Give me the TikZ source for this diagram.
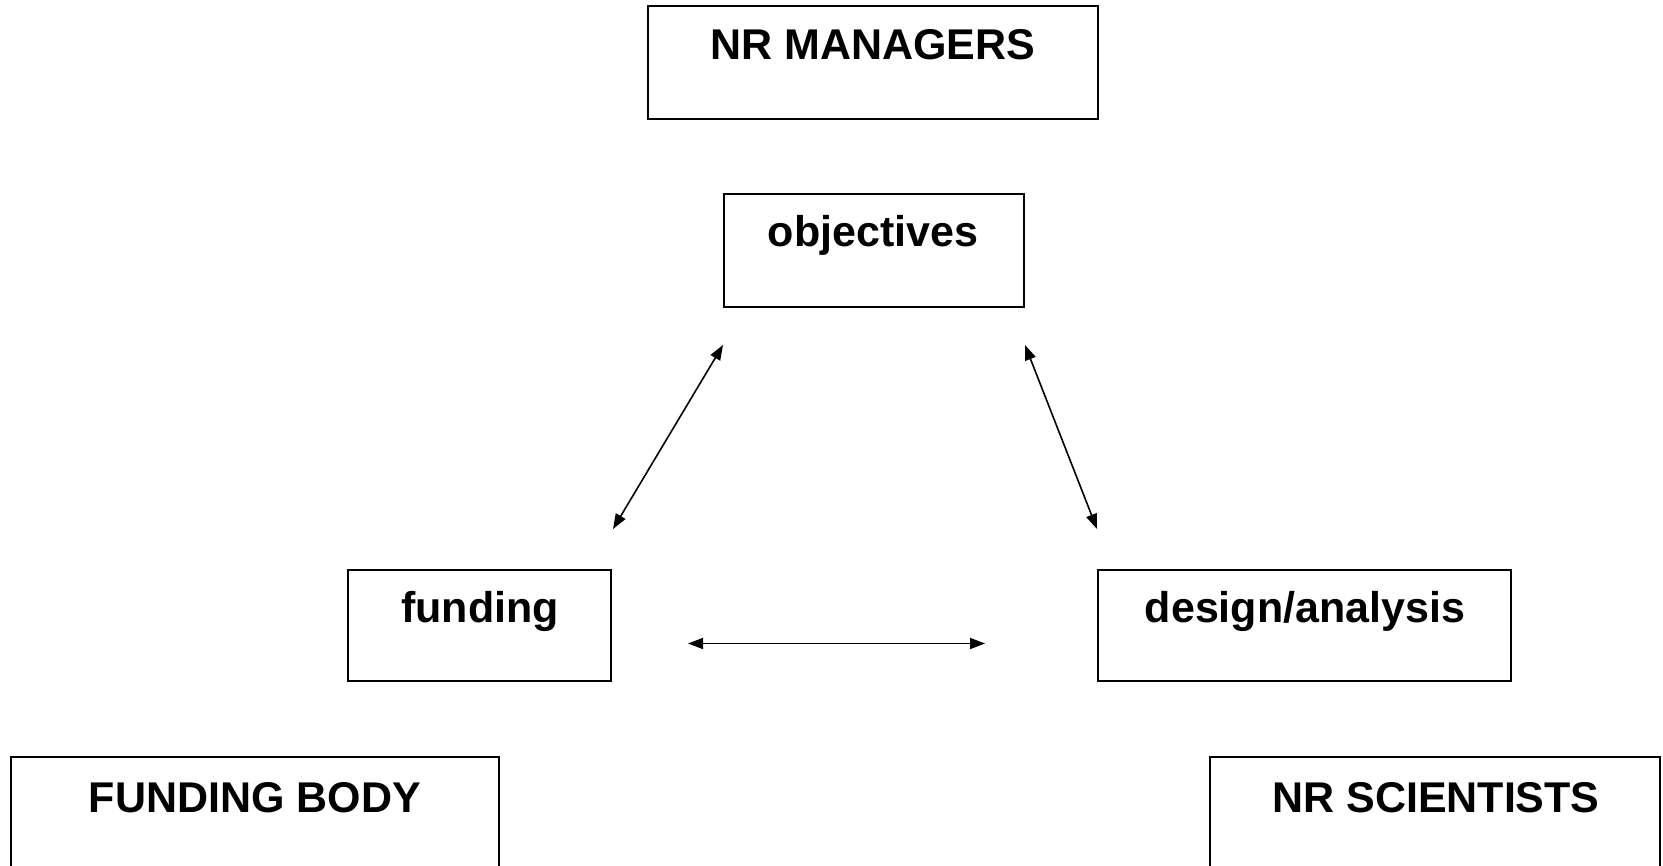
\documentclass[tikz,border=0pt]{standalone}
\usepackage{fontspec}
\setmainfont{Liberation Sans}
\usetikzlibrary{arrows.meta,calc}
\tikzset{
  box/.style={draw=black, line width=2pt, fill=none, inner sep=0pt},
  lbl/.style={anchor=base, inner sep=0pt, font=\fontsize{43}{50}\selectfont\bfseries},
  link/.style={line width=1.6pt, {Triangle[length=15pt,width=11pt]}-{Triangle[length=15pt,width=11pt]}}
}
\begin{document}
\begin{tikzpicture}[x=1pt,y=-1pt]
\useasboundingbox (0,0) rectangle (1663,866);
\clip (0,0) rectangle (1663,866);
% boxes
\node[box, minimum width=450pt, minimum height=113pt] (mgr) at (873,62.5) {};
\node[box, minimum width=300pt, minimum height=113pt] (obj) at (874,250.5) {};
\node[box, minimum width=263pt, minimum height=111pt] (fund) at (479.5,625.5) {};
\node[box, minimum width=413pt, minimum height=111pt] (des) at (1304.5,625.5) {};
\node[box, minimum width=488pt, minimum height=160pt] (fb) at (255,837) {};
\node[box, minimum width=450pt, minimum height=160pt] (sci) at (1435,837) {};
% labels
\node[lbl] (tmgr) at (873,60) {NR MANAGERS};
\node[lbl] (tobj) at (873,247) {objectives};
\node[lbl] (tfund) at (480,622) {funding};
\node[lbl] (tdes) at (1305,622) {design/analysis};
\node[lbl] (tfb) at (255,812) {FUNDING BODY};
\node[lbl] (tsci) at (1436,812) {NR SCIENTISTS};
% connector end points
\coordinate (a1) at ($(fund.north east)+(1,-40)$);
\coordinate (a2) at ($(obj.south west)+(0,37)$);
\coordinate (b1) at ($(obj.south east)+(0,37)$);
\coordinate (b2) at ($(des.north west)+(0,-40)$);
\coordinate (c1) at ($(fund.east)+(76,18)$);
\coordinate (c2) at ($(des.west)+(-112,18)$);
\draw[link] (a1) -- (a2);
\draw[link] (b1) -- (b2);
\draw[link] (c1) -- (c2);
\end{tikzpicture}
\end{document}
